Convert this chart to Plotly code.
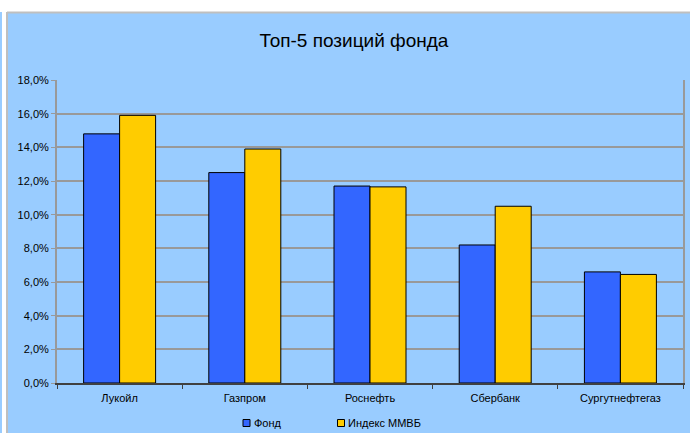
import plotly.graph_objects as go

categories = ["Лукойл", "Газпром", "Роснефть", "Сбербанк", "Сургутнефтегаз"]
series_names = ["Фонд", "Индекс ММВБ"]
series_colors = ["#3366FF", "#FFCC00"]
fund = [14.8, 12.5, 11.7, 8.2, 6.6]
index_micex = [15.9, 13.9, 11.65, 10.5, 6.45]
tick_vals = [0, 2, 4, 6, 8, 10, 12, 14, 16, 18]
tick_text = ["0,0%", "2,0%", "4,0%", "6,0%", "8,0%", "10,0%", "12,0%", "14,0%", "16,0%", "18,0%"]

W, H = 690, 433
L, R, T, B = 57, 683, 80, 383

def px(x):
    return (x - L) / (R - L)

def py(y):
    return (B - y) / (B - T)

FONT = "Liberation Sans, Arial, sans-serif"

fig = go.Figure()
for name, color, vals in zip(series_names, series_colors, [fund, index_micex]):
    fig.add_trace(go.Bar(name=name, x=categories, y=vals, showlegend=False,
                         marker=dict(color=color, line=dict(color="#000000", width=1))))

shapes = [
    dict(type="rect", xref="paper", yref="paper", x0=px(0), x1=px(W), y0=py(0), y1=py(12),
         fillcolor="white", line=dict(width=0), layer="below"),
    dict(type="rect", xref="paper", yref="paper", x0=px(2), x1=px(7), y0=py(0), y1=py(H),
         fillcolor="white", line=dict(width=0), layer="below"),
    dict(type="line", xref="paper", yref="paper", x0=px(7), x1=px(7), y0=py(12), y1=py(H),
         line=dict(color="#BFBFBF", width=2)),
    dict(type="line", xref="paper", yref="paper", x0=px(7), x1=px(W), y0=py(12.5), y1=py(12.5),
         line=dict(color="#BFBFBF", width=2)),
]

# legend (custom, compact like the original)
legend_x = [246.5, 341.0]
legend_y = 423.0
annotations = []
for lx, name, color in zip(legend_x, series_names, series_colors):
    shapes.append(dict(type="rect", xref="paper", yref="paper",
                       x0=px(lx - 3.5), x1=px(lx + 3.5), y0=py(legend_y - 3.5), y1=py(legend_y + 3.5),
                       fillcolor=color, line=dict(color="#000000", width=1)))
    annotations.append(dict(text=name, xref="paper", yref="paper", x=px(lx + 5), y=py(legend_y),
                            xanchor="left", yanchor="middle", showarrow=False,
                            font=dict(size=11, family=FONT, color="#000000")))

annotations.append(dict(text="%", xref="paper", yref="paper", x=px(2), y=py(251),
                        xanchor="right", yanchor="middle", showarrow=False,
                        font=dict(size=11, family=FONT, color="#000000")))

fig.update_layout(
    width=W, height=H,
    margin=dict(l=L, r=W - R, t=T, b=H - B, pad=0, autoexpand=False),
    paper_bgcolor="#99CCFF",
    plot_bgcolor="#99CCFF",
    barmode="group",
    bargap=0.425,
    bargroupgap=0,
    separators=", ",
    showlegend=False,
    font=dict(family=FONT, size=11, color="#000000"),
    title=dict(text="Топ-5 позиций фонда", font=dict(family=FONT, size=19, color="#000000"),
               x=354 / W, xref="container", xanchor="center",
               y=1 - 40 / H, yref="container", yanchor="middle"),
    xaxis=dict(showline=True, linecolor="#404040", linewidth=2,
               ticks="outside", tickson="boundaries", ticklen=4, tickcolor="#404040", tickwidth=1,
               ticklabelstandoff=4,
               showgrid=False, tickfont=dict(size=11, family=FONT)),
    yaxis=dict(range=[0, 18], tickvals=tick_vals, ticktext=tick_text,
               showline=True, linecolor="#999999", linewidth=2, mirror=True,
               ticks="outside", ticklen=4, tickcolor="#999999",
               showgrid=True, gridcolor="#999999", gridwidth=1.5,
               zeroline=False, tickfont=dict(size=11, family=FONT)),
    shapes=shapes,
    annotations=annotations,
)

fig.write_html("out.html")
